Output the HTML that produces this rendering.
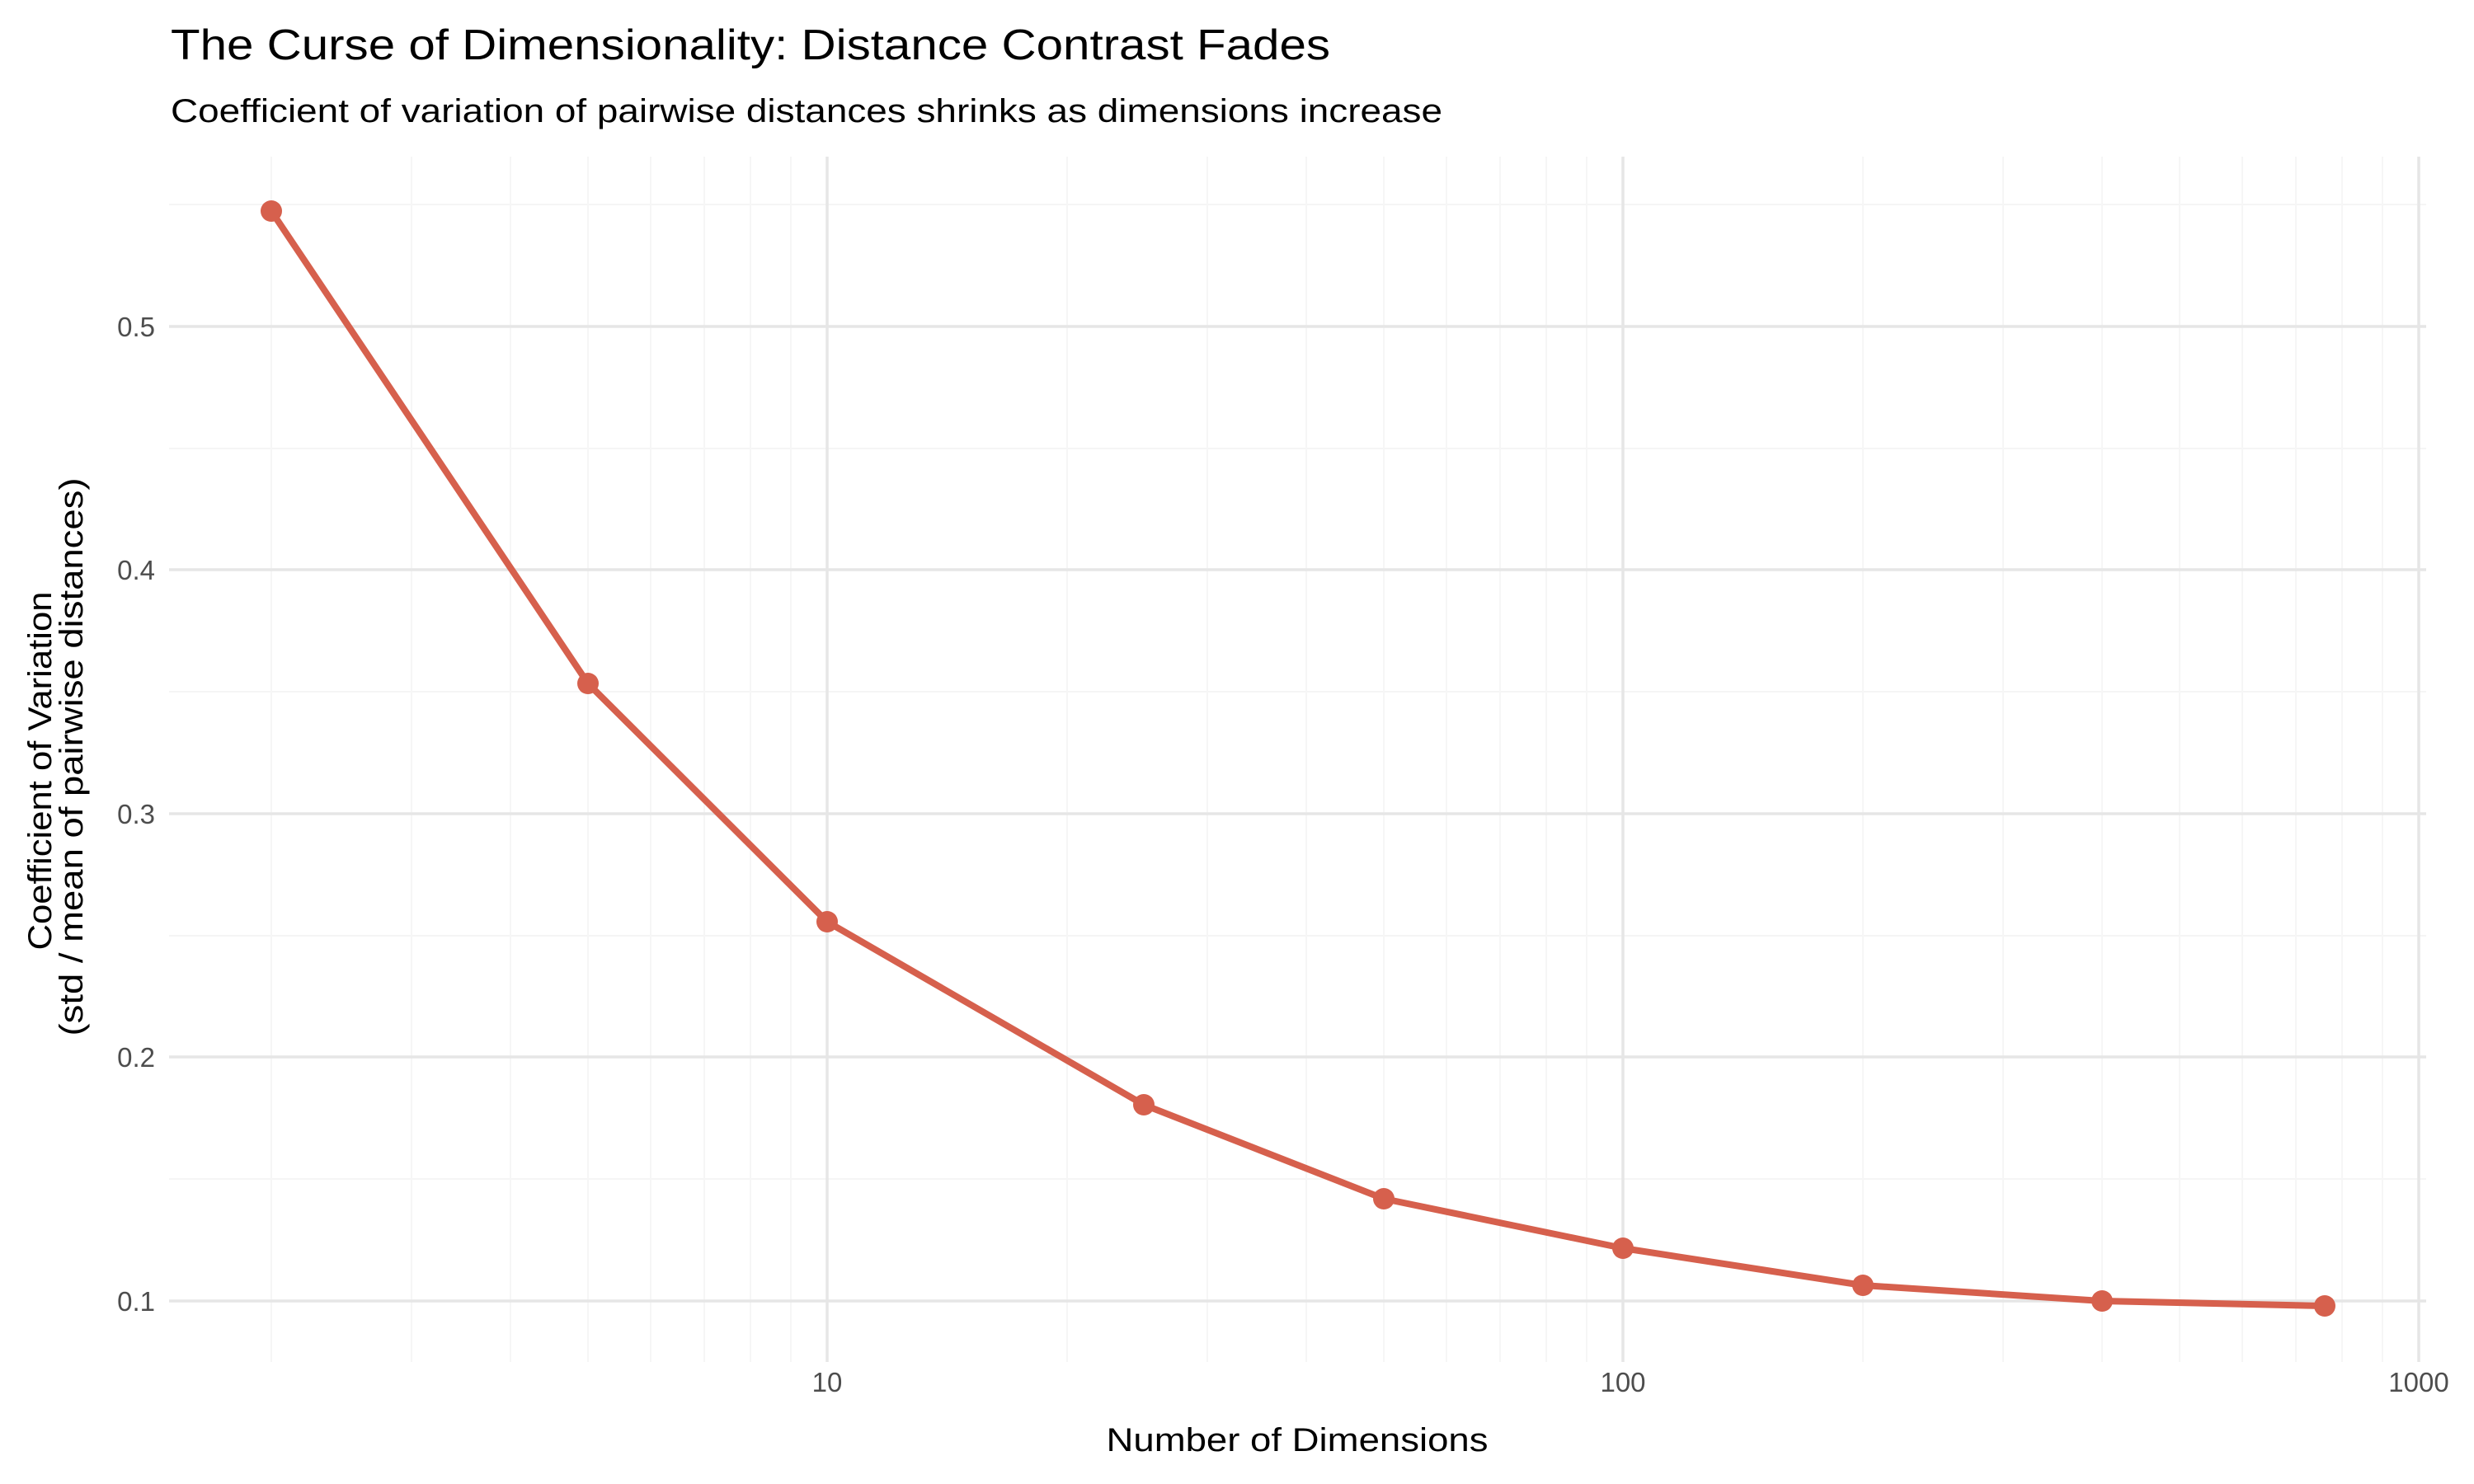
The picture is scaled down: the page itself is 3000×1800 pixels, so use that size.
<!DOCTYPE html>
<html><head><meta charset="utf-8"><style>
html,body{margin:0;padding:0;background:#fff;}
svg{display:block;font-family:"Liberation Sans",Arial,sans-serif;}
</style></head><body>
<svg width="3000" height="1800" viewBox="0 0 3000 1800" xmlns="http://www.w3.org/2000/svg">
<rect width="3000" height="1800" fill="#fff"/>
<g stroke="#f5f5f5" stroke-width="2">
<line x1="205" x2="2942" y1="1430" y2="1430"/>
<line x1="205" x2="2942" y1="1135" y2="1135"/>
<line x1="205" x2="2942" y1="839" y2="839"/>
<line x1="205" x2="2942" y1="544" y2="544"/>
<line x1="205" x2="2942" y1="248" y2="248"/>
</g>
<g stroke="#f6f6f6" stroke-width="2">
<line x1="329" x2="329" y1="190" y2="1652"/>
<line x1="499" x2="499" y1="190" y2="1652"/>
<line x1="619" x2="619" y1="190" y2="1652"/>
<line x1="713" x2="713" y1="190" y2="1652"/>
<line x1="789" x2="789" y1="190" y2="1652"/>
<line x1="854" x2="854" y1="190" y2="1652"/>
<line x1="910" x2="910" y1="190" y2="1652"/>
<line x1="959" x2="959" y1="190" y2="1652"/>
<line x1="1294" x2="1294" y1="190" y2="1652"/>
<line x1="1464" x2="1464" y1="190" y2="1652"/>
<line x1="1584" x2="1584" y1="190" y2="1652"/>
<line x1="1678" x2="1678" y1="190" y2="1652"/>
<line x1="1754" x2="1754" y1="190" y2="1652"/>
<line x1="1819" x2="1819" y1="190" y2="1652"/>
<line x1="1875" x2="1875" y1="190" y2="1652"/>
<line x1="1924" x2="1924" y1="190" y2="1652"/>
<line x1="2259" x2="2259" y1="190" y2="1652"/>
<line x1="2429" x2="2429" y1="190" y2="1652"/>
<line x1="2549" x2="2549" y1="190" y2="1652"/>
<line x1="2643" x2="2643" y1="190" y2="1652"/>
<line x1="2719" x2="2719" y1="190" y2="1652"/>
<line x1="2784" x2="2784" y1="190" y2="1652"/>
<line x1="2840" x2="2840" y1="190" y2="1652"/>
<line x1="2889" x2="2889" y1="190" y2="1652"/>
</g>
<g stroke="#e6e6e6" stroke-width="3.5">
<line x1="205" x2="2942" y1="1578" y2="1578"/>
<line x1="205" x2="2942" y1="1282" y2="1282"/>
<line x1="205" x2="2942" y1="987" y2="987"/>
<line x1="205" x2="2942" y1="691" y2="691"/>
<line x1="205" x2="2942" y1="396" y2="396"/>
<line x1="1003" x2="1003" y1="190" y2="1652"/>
<line x1="1968" x2="1968" y1="190" y2="1652"/>
<line x1="2933" x2="2933" y1="190" y2="1652"/>
</g>
<polyline fill="none" stroke="#D6604D" stroke-width="8" stroke-linejoin="round"
 points="329,256 713,829 1003,1118 1387,1340 1678,1454 1968,1514 2259,1559 2549,1578 2819,1584"/>
<g fill="#D6604D">
<circle cx="329" cy="256" r="13"/><circle cx="713" cy="829" r="13"/>
<circle cx="1003" cy="1118" r="13"/><circle cx="1387" cy="1340" r="13"/>
<circle cx="1678" cy="1454" r="13"/><circle cx="1968" cy="1514" r="13"/>
<circle cx="2259" cy="1559" r="13"/><circle cx="2549" cy="1578" r="13"/>
<circle cx="2819" cy="1584" r="13"/>
</g>
<g fill="#4d4d4d" font-size="33" text-anchor="end">
<text x="188" y="408">0.5</text><text x="188" y="703">0.4</text>
<text x="188" y="999">0.3</text><text x="188" y="1294">0.2</text>
<text x="188" y="1590">0.1</text>
</g>
<g fill="#4d4d4d" font-size="33" text-anchor="middle">
<text x="1003" y="1688">10</text><text x="1968" y="1688">100</text><text x="2933" y="1688">1000</text>
</g>
<text x="1573" y="1760" font-size="40" text-anchor="middle" fill="#000" textLength="463" lengthAdjust="spacingAndGlyphs">Number of Dimensions</text>
<g transform="translate(62,935) rotate(-90)"><text x="0" y="0" font-size="40" text-anchor="middle" fill="#000" textLength="435" lengthAdjust="spacingAndGlyphs">Coefficient of Variation</text></g>
<g transform="translate(100,918) rotate(-90)"><text x="0" y="0" font-size="40" text-anchor="middle" fill="#000" textLength="677" lengthAdjust="spacingAndGlyphs">(std / mean of pairwise distances)</text></g>
<text x="207" y="72" font-size="52" fill="#000" textLength="1406" lengthAdjust="spacingAndGlyphs">The Curse of Dimensionality: Distance Contrast Fades</text>
<text x="207" y="148" font-size="40" fill="#000" textLength="1542" lengthAdjust="spacingAndGlyphs">Coefficient of variation of pairwise distances shrinks as dimensions increase</text>
</svg>
</body></html>
